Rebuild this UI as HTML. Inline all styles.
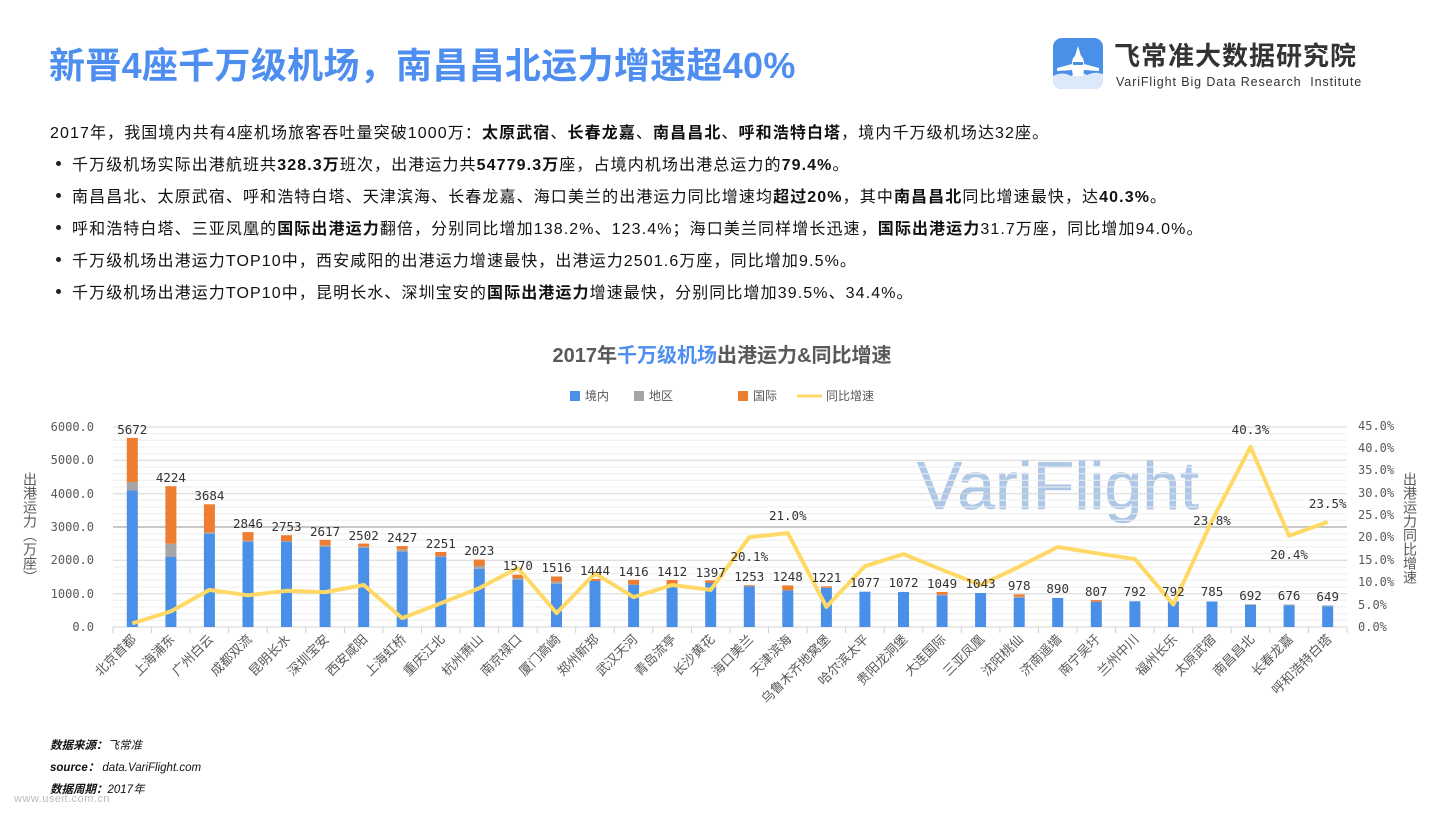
<!DOCTYPE html>
<html><head><meta charset="utf-8">
<style>
*{margin:0;padding:0;box-sizing:border-box}
body{width:1440px;height:818px;background:#fff;position:relative;overflow:hidden;font-family:"Liberation Sans","Noto Sans CJK SC",sans-serif;color:#222}
.t{position:absolute;white-space:nowrap}
h1{position:absolute;left:49px;top:37px;font-size:36px;font-weight:bold;color:#4d8ef0;white-space:nowrap;letter-spacing:0.3px}
.ln{position:absolute;left:50px;font-size:16px;white-space:nowrap;color:#111;letter-spacing:1.1px}
.b{position:absolute;left:56px;width:5px;height:5px;border-radius:50%;background:#222}
.ft{position:absolute;left:50px;font-size:11.5px;font-style:italic;color:#111}
</style></head><body>
<h1>新晋4座千万级机场，南昌昌北运力增速超40%</h1>

<div style="position:absolute;left:1053px;top:38px;width:50px;height:51px;border-radius:9px;background:#4a90e8;overflow:hidden">
<svg width="50" height="51" viewBox="0 0 50 51">
<path d="M0 38 Q10 33 18 38 Q26 32 34 37 Q42 33 50 36 L50 51 L0 51Z" fill="#dbe9fb"/>
<path d="M25 8 L28 18 Q31 20 31 26 L46 30 L46 33 L31 32 L30 38 L20 38 L19 32 L4 33 L4 30 L19 26 Q19 20 22 18Z" fill="#fff"/>
<rect x="20" y="24" width="10" height="3" fill="#4a90e8"/>
</svg></div>
<div class="t" style="left:1114px;top:36px;font-size:26px;color:#333;font-weight:bold;letter-spacing:1px">飞常准大数据研究院</div>
<div class="t" style="left:1116px;top:75px;font-size:12.5px;color:#333;letter-spacing:0.9px">VariFlight Big Data Research &nbsp;Institute</div>

<div class="ln" style="top:119px">2017年，我国境内共有4座机场旅客吞吐量突破1000万：<b>太原武宿</b>、<b>长春龙嘉</b>、<b>南昌昌北</b>、<b>呼和浩特白塔</b>，境内千万级机场达32座。</div>
<div class="ln" style="top:151px;left:72px">千万级机场实际出港航班共<b>328.3万</b>班次，出港运力共<b>54779.3万</b>座，占境内机场出港总运力的<b>79.4%</b>。</div>
<div class="ln" style="top:183px;left:72px">南昌昌北、太原武宿、呼和浩特白塔、天津滨海、长春龙嘉、海口美兰的出港运力同比增速均<b>超过20%</b>，其中<b>南昌昌北</b>同比增速最快，达<b>40.3%</b>。</div>
<div class="ln" style="top:215px;left:72px">呼和浩特白塔、三亚凤凰的<b>国际出港运力</b>翻倍，分别同比增加138.2%、123.4%；海口美兰同样增长迅速，<b>国际出港运力</b>31.7万座，同比增加94.0%。</div>
<div class="ln" style="top:247px;left:72px">千万级机场出港运力TOP10中，西安咸阳的出港运力增速最快，出港运力2501.6万座，同比增加9.5%。</div>
<div class="ln" style="top:279px;left:72px">千万级机场出港运力TOP10中，昆明长水、深圳宝安的<b>国际出港运力</b>增速最快，分别同比增加39.5%、34.4%。</div>
<div class="b" style="top:161px"></div><div class="b" style="top:193px"></div><div class="b" style="top:225px"></div><div class="b" style="top:257px"></div><div class="b" style="top:289px"></div>

<svg style="position:absolute;left:0;top:0" width="1440" height="818" viewBox="0 0 1440 818">
<text x="722" y="362" text-anchor="middle" font-size="20" font-weight="bold" fill="#595959" font-family="Liberation Sans,Noto Sans CJK SC,sans-serif">2017年<tspan fill="#4d8ef0">千万级机场</tspan>出港运力&amp;同比增速</text>
<g font-size="12" fill="#595959" font-family="Liberation Sans,Noto Sans CJK SC,sans-serif">
<rect x="570" y="391" width="10" height="10" fill="#4a8fe8"/><text x="585" y="400">境内</text>
<rect x="634" y="391" width="10" height="10" fill="#a5a5a5"/><text x="649" y="400">地区</text>
<rect x="738" y="391" width="10" height="10" fill="#ed7d31"/><text x="753" y="400">国际</text>
<line x1="797" y1="396" x2="822" y2="396" stroke="#ffd966" stroke-width="3"/><text x="826" y="400">同比增速</text>
</g>
<text x="1058" y="509" text-anchor="middle" font-size="68" fill="#7aa3d8" fill-opacity="0.6" stroke="#7aa3d8" stroke-opacity="0.35" stroke-width="0.8" font-family="Liberation Sans,sans-serif">VariFlight</text>
<!-- grid -->
<g stroke="#eeeeee" stroke-width="1">
<line x1="113" x2="1347" y1="433.7" y2="433.7"/><line x1="113" x2="1347" y1="440.3" y2="440.3"/><line x1="113" x2="1347" y1="447" y2="447"/><line x1="113" x2="1347" y1="453.7" y2="453.7"/>
<line x1="113" x2="1347" y1="467" y2="467"/><line x1="113" x2="1347" y1="473.7" y2="473.7"/><line x1="113" x2="1347" y1="480.3" y2="480.3"/><line x1="113" x2="1347" y1="487" y2="487"/>
<line x1="113" x2="1347" y1="500.3" y2="500.3"/><line x1="113" x2="1347" y1="507" y2="507"/><line x1="113" x2="1347" y1="513.7" y2="513.7"/><line x1="113" x2="1347" y1="520.3" y2="520.3"/>
<line x1="113" x2="1347" y1="533.7" y2="533.7"/><line x1="113" x2="1347" y1="540.3" y2="540.3"/><line x1="113" x2="1347" y1="547" y2="547"/><line x1="113" x2="1347" y1="553.7" y2="553.7"/>
<line x1="113" x2="1347" y1="567" y2="567"/><line x1="113" x2="1347" y1="573.7" y2="573.7"/><line x1="113" x2="1347" y1="580.3" y2="580.3"/><line x1="113" x2="1347" y1="587" y2="587"/>
<line x1="113" x2="1347" y1="600.3" y2="600.3"/><line x1="113" x2="1347" y1="607" y2="607"/><line x1="113" x2="1347" y1="613.7" y2="613.7"/><line x1="113" x2="1347" y1="620.3" y2="620.3"/>
</g>
<g stroke="#d6d6d6" stroke-width="1">
<line x1="113" x2="1347" y1="427" y2="427"/><line x1="113" x2="1347" y1="460.3" y2="460.3"/><line x1="113" x2="1347" y1="493.7" y2="493.7"/><line x1="113" x2="1347" y1="527" y2="527" stroke="#c8c8c8" stroke-width="2"/><line x1="113" x2="1347" y1="560.3" y2="560.3"/><line x1="113" x2="1347" y1="593.7" y2="593.7"/>
<line x1="113" x2="1347" y1="627" y2="627"/>
</g>
<g stroke="#d0d0d0">
<line x1="113" x2="113" y1="627" y2="633"/><line x1="151.6" x2="151.6" y1="627" y2="633"/><line x1="190.1" x2="190.1" y1="627" y2="633"/><line x1="228.7" x2="228.7" y1="627" y2="633"/><line x1="267.2" x2="267.2" y1="627" y2="633"/><line x1="305.8" x2="305.8" y1="627" y2="633"/><line x1="344.4" x2="344.4" y1="627" y2="633"/><line x1="382.9" x2="382.9" y1="627" y2="633"/><line x1="421.5" x2="421.5" y1="627" y2="633"/><line x1="460" x2="460" y1="627" y2="633"/><line x1="498.6" x2="498.6" y1="627" y2="633"/><line x1="537.2" x2="537.2" y1="627" y2="633"/><line x1="575.7" x2="575.7" y1="627" y2="633"/><line x1="614.3" x2="614.3" y1="627" y2="633"/><line x1="652.8" x2="652.8" y1="627" y2="633"/><line x1="691.4" x2="691.4" y1="627" y2="633"/><line x1="730" x2="730" y1="627" y2="633"/><line x1="768.5" x2="768.5" y1="627" y2="633"/><line x1="807.1" x2="807.1" y1="627" y2="633"/><line x1="845.6" x2="845.6" y1="627" y2="633"/><line x1="884.2" x2="884.2" y1="627" y2="633"/><line x1="922.8" x2="922.8" y1="627" y2="633"/><line x1="961.3" x2="961.3" y1="627" y2="633"/><line x1="999.9" x2="999.9" y1="627" y2="633"/><line x1="1038.4" x2="1038.4" y1="627" y2="633"/><line x1="1077" x2="1077" y1="627" y2="633"/><line x1="1115.6" x2="1115.6" y1="627" y2="633"/><line x1="1154.1" x2="1154.1" y1="627" y2="633"/><line x1="1192.7" x2="1192.7" y1="627" y2="633"/><line x1="1231.2" x2="1231.2" y1="627" y2="633"/><line x1="1269.8" x2="1269.8" y1="627" y2="633"/><line x1="1308.4" x2="1308.4" y1="627" y2="633"/><line x1="1347" x2="1347" y1="627" y2="633"/>
</g>
<!-- axis labels -->
<g font-size="12" fill="#595959" font-family="DejaVu Sans Mono,Liberation Mono,monospace" text-anchor="end">
<text x="94" y="431">6000.0</text><text x="94" y="464">5000.0</text><text x="94" y="498">4000.0</text><text x="94" y="531">3000.0</text><text x="94" y="564">2000.0</text><text x="94" y="598">1000.0</text><text x="94" y="631">0.0</text>
</g>
<g font-size="12" fill="#595959" font-family="DejaVu Sans Mono,Liberation Mono,monospace">
<text x="1358" y="430">45.0%</text><text x="1358" y="452">40.0%</text><text x="1358" y="474">35.0%</text><text x="1358" y="497">30.0%</text><text x="1358" y="519">25.0%</text><text x="1358" y="541">20.0%</text><text x="1358" y="564">15.0%</text><text x="1358" y="586">10.0%</text><text x="1358" y="609">5.0%</text><text x="1358" y="631">0.0%</text>
</g>
<g font-size="14" fill="#595959" font-family="Liberation Sans,Noto Sans CJK SC,sans-serif">
<text x="30" y="472" style="writing-mode:vertical-rl">出港运力（万座）</text>
<text x="1410" y="472" style="writing-mode:vertical-rl">出港运力同比增速</text>
</g>
<!-- bars -->
<g fill="#4a8fe8">
<rect x="126.8" y="490.3" width="11" height="136.7"/><rect x="165.4" y="557" width="11" height="70"/><rect x="203.9" y="533.7" width="11" height="93.3"/><rect x="242.5" y="542" width="11" height="85"/><rect x="281" y="542" width="11" height="85"/><rect x="319.6" y="547" width="11" height="80"/><rect x="358.2" y="547.7" width="11" height="79.3"/><rect x="396.7" y="552" width="11" height="75"/><rect x="435.3" y="557" width="11" height="70"/><rect x="473.8" y="568.7" width="11" height="58.3"/><rect x="512.4" y="579.7" width="11" height="47.3"/><rect x="551" y="583.7" width="11" height="43.3"/><rect x="589.5" y="581" width="11" height="46"/><rect x="628.1" y="584.7" width="11" height="42.3"/><rect x="666.6" y="587" width="11" height="40"/><rect x="705.2" y="583" width="11" height="44"/><rect x="743.8" y="586.3" width="11" height="40.7"/><rect x="782.3" y="590.3" width="11" height="36.7"/><rect x="820.9" y="587.7" width="11" height="39.3"/><rect x="859.4" y="591.7" width="11" height="35.3"/><rect x="898" y="592" width="11" height="35"/><rect x="936.6" y="595.3" width="11" height="31.7"/><rect x="975.1" y="593" width="11" height="34"/><rect x="1013.7" y="597.7" width="11" height="29.3"/><rect x="1052.2" y="598" width="11" height="29"/><rect x="1090.8" y="601.7" width="11" height="25.3"/><rect x="1129.4" y="601.3" width="11" height="25.7"/><rect x="1167.9" y="601.3" width="11" height="25.7"/><rect x="1206.5" y="601.5" width="11" height="25.5"/><rect x="1245" y="605" width="11" height="22"/><rect x="1283.6" y="605.3" width="11" height="21.7"/><rect x="1322.2" y="606.3" width="11" height="20.7"/>
</g>
<g fill="#a5a5a5">
<rect x="126.8" y="482" width="11" height="8.3"/><rect x="165.4" y="543.7" width="11" height="13.3"/><rect x="203.9" y="532.4" width="11" height="1.3"/><rect x="242.5" y="540.7" width="11" height="1.3"/><rect x="281" y="541" width="11" height="1"/><rect x="319.6" y="545.3" width="11" height="1.7"/><rect x="358.2" y="546.7" width="11" height="1"/><rect x="396.7" y="549.3" width="11" height="2.7"/><rect x="435.3" y="556" width="11" height="1"/><rect x="473.8" y="566" width="11" height="2.7"/><rect x="512.4" y="578" width="11" height="1.7"/><rect x="551" y="581.7" width="11" height="2"/><rect x="666.6" y="585.7" width="11" height="1.3"/><rect x="936.6" y="594.6" width="11" height="0.7"/><rect x="1013.7" y="596.7" width="11" height="1"/><rect x="1245" y="604.3" width="11" height="0.7"/><rect x="1283.6" y="604.5" width="11" height="0.8"/><rect x="1322.2" y="605.4" width="11" height="0.9"/>
</g>
<g fill="#ed7d31">
<rect x="126.8" y="437.9" width="11" height="44.1"/><rect x="165.4" y="486.2" width="11" height="57.5"/><rect x="203.9" y="504.3" width="11" height="28.1"/><rect x="242.5" y="532.1" width="11" height="8.6"/><rect x="281" y="535.2" width="11" height="5.8"/><rect x="319.6" y="539.8" width="11" height="5.5"/><rect x="358.2" y="543.6" width="11" height="3.1"/><rect x="396.7" y="546.1" width="11" height="3.2"/><rect x="435.3" y="552" width="11" height="4"/><rect x="473.8" y="559.6" width="11" height="6.4"/><rect x="512.4" y="574.7" width="11" height="3.3"/><rect x="551" y="576.5" width="11" height="5.2"/><rect x="589.5" y="578.9" width="11" height="2.1"/><rect x="628.1" y="579.8" width="11" height="4.9"/><rect x="666.6" y="579.9" width="11" height="5.8"/><rect x="705.2" y="580.4" width="11" height="2.6"/><rect x="743.8" y="585.2" width="11" height="1.1"/><rect x="782.3" y="585.4" width="11" height="4.9"/><rect x="820.9" y="586.3" width="11" height="1.4"/><rect x="936.6" y="592" width="11" height="2.6"/><rect x="1013.7" y="594.4" width="11" height="2.3"/><rect x="1090.8" y="600.1" width="11" height="1.6"/>
</g>
<!-- line -->
<polyline fill="none" stroke="#ffd966" stroke-width="4" stroke-linejoin="round" points="132.3,623.4 170.9,611.4 209.4,589.9 248,595.3 286.5,590.8 325.1,592.1 363.7,585 402.2,618.1 440.8,603.3 479.3,588.1 517.9,568 556.5,613.1 595,573.4 633.6,597.1 672.1,585 710.7,589.9 749.3,537.2 787.8,533.1 826.4,606.9 864.9,566.2 903.5,554.1 942.1,569.8 980.6,585 1019.2,566.7 1057.7,547 1096.3,553.2 1134.9,559.1 1173.4,604.6 1212,520.6 1250.5,446.9 1289.1,535.8 1327.7,522"/>
<!-- value labels -->
<g font-size="12.5" fill="#333" font-family="DejaVu Sans Mono,Liberation Mono,monospace" text-anchor="middle">
<text x="132.3" y="434">5672</text><text x="170.9" y="482">4224</text><text x="209.4" y="500">3684</text><text x="248" y="528">2846</text><text x="286.5" y="531">2753</text><text x="325.1" y="536">2617</text><text x="363.7" y="540">2502</text><text x="402.2" y="542">2427</text><text x="440.8" y="548">2251</text><text x="479.3" y="555">2023</text><text x="517.9" y="570">1570</text><text x="556.5" y="572">1516</text><text x="595" y="575">1444</text><text x="633.6" y="576">1416</text><text x="672.1" y="576">1412</text><text x="710.7" y="577">1397</text><text x="749.3" y="581">1253</text><text x="787.8" y="581">1248</text><text x="826.4" y="582">1221</text><text x="864.9" y="587">1077</text><text x="903.5" y="587">1072</text><text x="942.1" y="588">1049</text><text x="980.6" y="588">1043</text><text x="1019.2" y="590">978</text><text x="1057.7" y="593">890</text><text x="1096.3" y="596">807</text><text x="1134.9" y="596">792</text><text x="1173.4" y="596">792</text><text x="1212" y="596">785</text><text x="1250.5" y="600">692</text><text x="1289.1" y="600">676</text><text x="1327.7" y="601">649</text>
<text x="749.3" y="561">20.1%</text><text x="787.8" y="520">21.0%</text><text x="1212" y="525">23.8%</text><text x="1250.5" y="434">40.3%</text><text x="1289.1" y="559">20.4%</text><text x="1327.7" y="508">23.5%</text>
</g>
<!-- category labels -->
<g font-size="13" fill="#595959" font-family="Liberation Sans,Noto Sans CJK SC,sans-serif" text-anchor="end">
<text transform="translate(137,640) rotate(-45)">北京首都</text><text transform="translate(175.6,640) rotate(-45)">上海浦东</text><text transform="translate(214.1,640) rotate(-45)">广州白云</text><text transform="translate(252.7,640) rotate(-45)">成都双流</text><text transform="translate(291.2,640) rotate(-45)">昆明长水</text><text transform="translate(329.8,640) rotate(-45)">深圳宝安</text><text transform="translate(368.4,640) rotate(-45)">西安咸阳</text><text transform="translate(406.9,640) rotate(-45)">上海虹桥</text><text transform="translate(445.5,640) rotate(-45)">重庆江北</text><text transform="translate(484,640) rotate(-45)">杭州萧山</text><text transform="translate(522.6,640) rotate(-45)">南京禄口</text><text transform="translate(561.2,640) rotate(-45)">厦门高崎</text><text transform="translate(599.7,640) rotate(-45)">郑州新郑</text><text transform="translate(638.3,640) rotate(-45)">武汉天河</text><text transform="translate(676.8,640) rotate(-45)">青岛流亭</text><text transform="translate(715.4,640) rotate(-45)">长沙黄花</text><text transform="translate(754,640) rotate(-45)">海口美兰</text><text transform="translate(792.5,640) rotate(-45)">天津滨海</text><text transform="translate(831.1,640) rotate(-45)">乌鲁木齐地窝堡</text><text transform="translate(869.6,640) rotate(-45)">哈尔滨太平</text><text transform="translate(908.2,640) rotate(-45)">贵阳龙洞堡</text><text transform="translate(946.8,640) rotate(-45)">大连国际</text><text transform="translate(985.3,640) rotate(-45)">三亚凤凰</text><text transform="translate(1023.9,640) rotate(-45)">沈阳桃仙</text><text transform="translate(1062.4,640) rotate(-45)">济南遥墙</text><text transform="translate(1101,640) rotate(-45)">南宁吴圩</text><text transform="translate(1139.6,640) rotate(-45)">兰州中川</text><text transform="translate(1178.1,640) rotate(-45)">福州长乐</text><text transform="translate(1216.7,640) rotate(-45)">太原武宿</text><text transform="translate(1255.2,640) rotate(-45)">南昌昌北</text><text transform="translate(1293.8,640) rotate(-45)">长春龙嘉</text><text transform="translate(1332.4,640) rotate(-45)">呼和浩特白塔</text>
</g>
</svg>

<div class="ft" style="top:737px"><b>数据来源：</b>飞常准</div>
<div class="ft" style="top:759px"><b>source：</b> data.VariFlight.com</div>
<div class="ft" style="top:781px"><b>数据周期：</b>2017年</div>
<div class="t" style="left:14px;top:793px;font-size:11px;color:#bbb;letter-spacing:0.5px">www.useit.com.cn</div>
</body></html>
